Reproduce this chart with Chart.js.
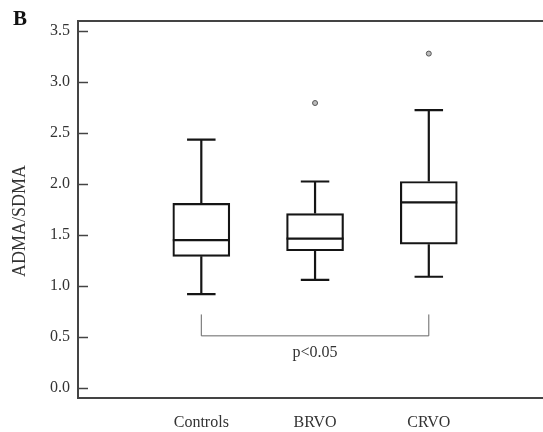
<!DOCTYPE html>
<html>
<head>
<meta charset="utf-8">
<script src="https://cdn.jsdelivr.net/npm/chart.js@4.4.0/dist/chart.umd.min.js"></script>
<style>
  html, body { margin: 0; padding: 0; background: #fff; }
  #wrap { position: relative; width: 543px; height: 432px; }
  #panel { position: absolute; left: 13px; top: 6px; font: bold 21px "Liberation Serif", serif; color: #111; }
</style>
</head>
<body>
<div id="wrap">
  <canvas id="boxChart" width="543" height="432"></canvas>
  <div id="panel">B</div>
</div>
<script>
// ============================
// DATA
// ============================
const groups = ["Controls", "BRVO", "CRVO"];
const whiskerLow = [0.92, 1.06, 1.09];
const q1 = [1.29, 1.345, 1.41];
const medians = [1.45, 1.465, 1.82];
const q3 = [1.81, 1.71, 2.025];
const whiskerHigh = [2.435, 2.025, 2.725];
const outlierGroup = [1, 2];
const outlierValues = [2.795, 3.28];
const yTicks = [0, 0.5, 1, 1.5, 2, 2.5, 3, 3.5];
const sigPair = [0, 2];
const sigTop = 0.72;
const sigBottom = 0.51;
const sigLabel = "p<0.05";
const yTitle = "ADMA/SDMA";

const serif = "'Liberation Serif', 'Times New Roman', serif";
const ink = "#151515";

// ============================
// WHISKERS, MEDIANS, FRAME, BRACKET
// ============================
const boxExtras = {
  id: "boxExtras",
  afterDatasetsDraw(chart) {
    const { ctx, chartArea: a, scales: { x, y } } = chart;
    const bars = chart.getDatasetMeta(0).data;
    ctx.save();

    // frame: left, top, bottom (open on the right, runs to the edge)
    ctx.strokeStyle = "#444";
    ctx.lineWidth = 2;
    ctx.beginPath();
    ctx.moveTo(chart.width, a.top);
    ctx.lineTo(a.left, a.top);
    ctx.lineTo(a.left, a.bottom);
    ctx.lineTo(chart.width, a.bottom);
    ctx.stroke();

    // inward tick marks
    ctx.lineWidth = 1.5;
    y.ticks.forEach((t) => {
      const py = Math.round(y.getPixelForValue(t.value)) + 0.5;
      ctx.beginPath();
      ctx.moveTo(a.left, py);
      ctx.lineTo(a.left + 10, py);
      ctx.stroke();
    });

    // whiskers, caps and medians
    ctx.strokeStyle = ink;
    ctx.lineWidth = 2.2;
    groups.forEach((g, i) => {
      const cx = x.getPixelForValue(i);
      const w = bars[i].width;
      const cap = w / 4;
      const yHi = y.getPixelForValue(whiskerHigh[i]);
      const yLo = y.getPixelForValue(whiskerLow[i]);
      const yQ3 = y.getPixelForValue(q3[i]);
      const yQ1 = y.getPixelForValue(q1[i]);
      const yMed = y.getPixelForValue(medians[i]);
      ctx.beginPath();
      ctx.moveTo(cx, yQ3); ctx.lineTo(cx, yHi);
      ctx.moveTo(cx - cap, yHi); ctx.lineTo(cx + cap, yHi);
      ctx.moveTo(cx, yQ1); ctx.lineTo(cx, yLo);
      ctx.moveTo(cx - cap, yLo); ctx.lineTo(cx + cap, yLo);
      ctx.moveTo(cx - w / 2, yMed); ctx.lineTo(cx + w / 2, yMed);
      ctx.stroke();
    });

    // significance bracket
    const bx1 = x.getPixelForValue(sigPair[0]);
    const bx2 = x.getPixelForValue(sigPair[1]);
    const bTop = y.getPixelForValue(sigTop);
    const bBot = y.getPixelForValue(sigBottom);
    ctx.strokeStyle = "#666";
    ctx.lineWidth = 1;
    ctx.beginPath();
    ctx.moveTo(bx1, bTop); ctx.lineTo(bx1, bBot);
    ctx.lineTo(bx2, bBot); ctx.lineTo(bx2, bTop);
    ctx.stroke();
    ctx.fillStyle = "#333";
    ctx.font = "16px " + serif;
    ctx.textAlign = "center";
    ctx.textBaseline = "middle";
    ctx.fillText(sigLabel, (bx1 + bx2) / 2, bBot + 17);

    // y axis title
    ctx.translate(20, 221);
    ctx.rotate(-Math.PI / 2);
    ctx.font = "18px " + serif;
    ctx.fillText(yTitle, 0, 0);
    ctx.restore();
  },
};

// ============================
// CHART
// ============================
new Chart(document.getElementById("boxChart"), {
  data: {
    datasets: [
      {
        type: "bar",
        data: groups.map((g, i) => ({ x: i, y: [q1[i], q3[i]] })),
        backgroundColor: "#fff",
        borderColor: ink,
        borderWidth: 2.2,
        borderSkipped: false,
        barThickness: 57,
      },
      {
        type: "scatter",
        data: outlierGroup.map((g, i) => ({ x: g, y: outlierValues[i] })),
        pointRadius: 2.5,
        pointBorderColor: "#555",
        pointBackgroundColor: "#bbb",
        pointBorderWidth: 1,
      },
    ],
  },
  options: {
    responsive: false,
    animation: false,
    layout: { padding: { top: 21, left: 0, right: 0, bottom: 0 } },
    plugins: { legend: { display: false }, tooltip: { enabled: false } },
    scales: {
      x: {
        type: "linear",
        offset: false,
        min: -1.084,
        max: 2.96,
        grid: { display: false, drawTicks: false, offset: false },
        border: { display: false },
        ticks: {
          color: "#333",
          font: { family: serif, size: 16 },
          padding: 15,
          callback: (v) => groups[v] ?? "",
        },
        afterBuildTicks: (s) => { s.ticks = groups.map((g, i) => ({ value: i })); },
        afterFit: (s) => { s.height = 34; },
      },
      y: {
        min: -0.1,
        max: 3.6,
        grid: { display: false, drawTicks: false },
        border: { display: false },
        ticks: {
          color: "#333",
          font: { family: serif, size: 16 },
          padding: 8,
          callback: (v) => Number(v).toFixed(1),
        },
        afterBuildTicks: (s) => { s.ticks = yTicks.map((v) => ({ value: v })); },
        afterFit: (s) => { s.width = 78; },
      },
    },
  },
  plugins: [boxExtras],
});
</script>
</body>
</html>
